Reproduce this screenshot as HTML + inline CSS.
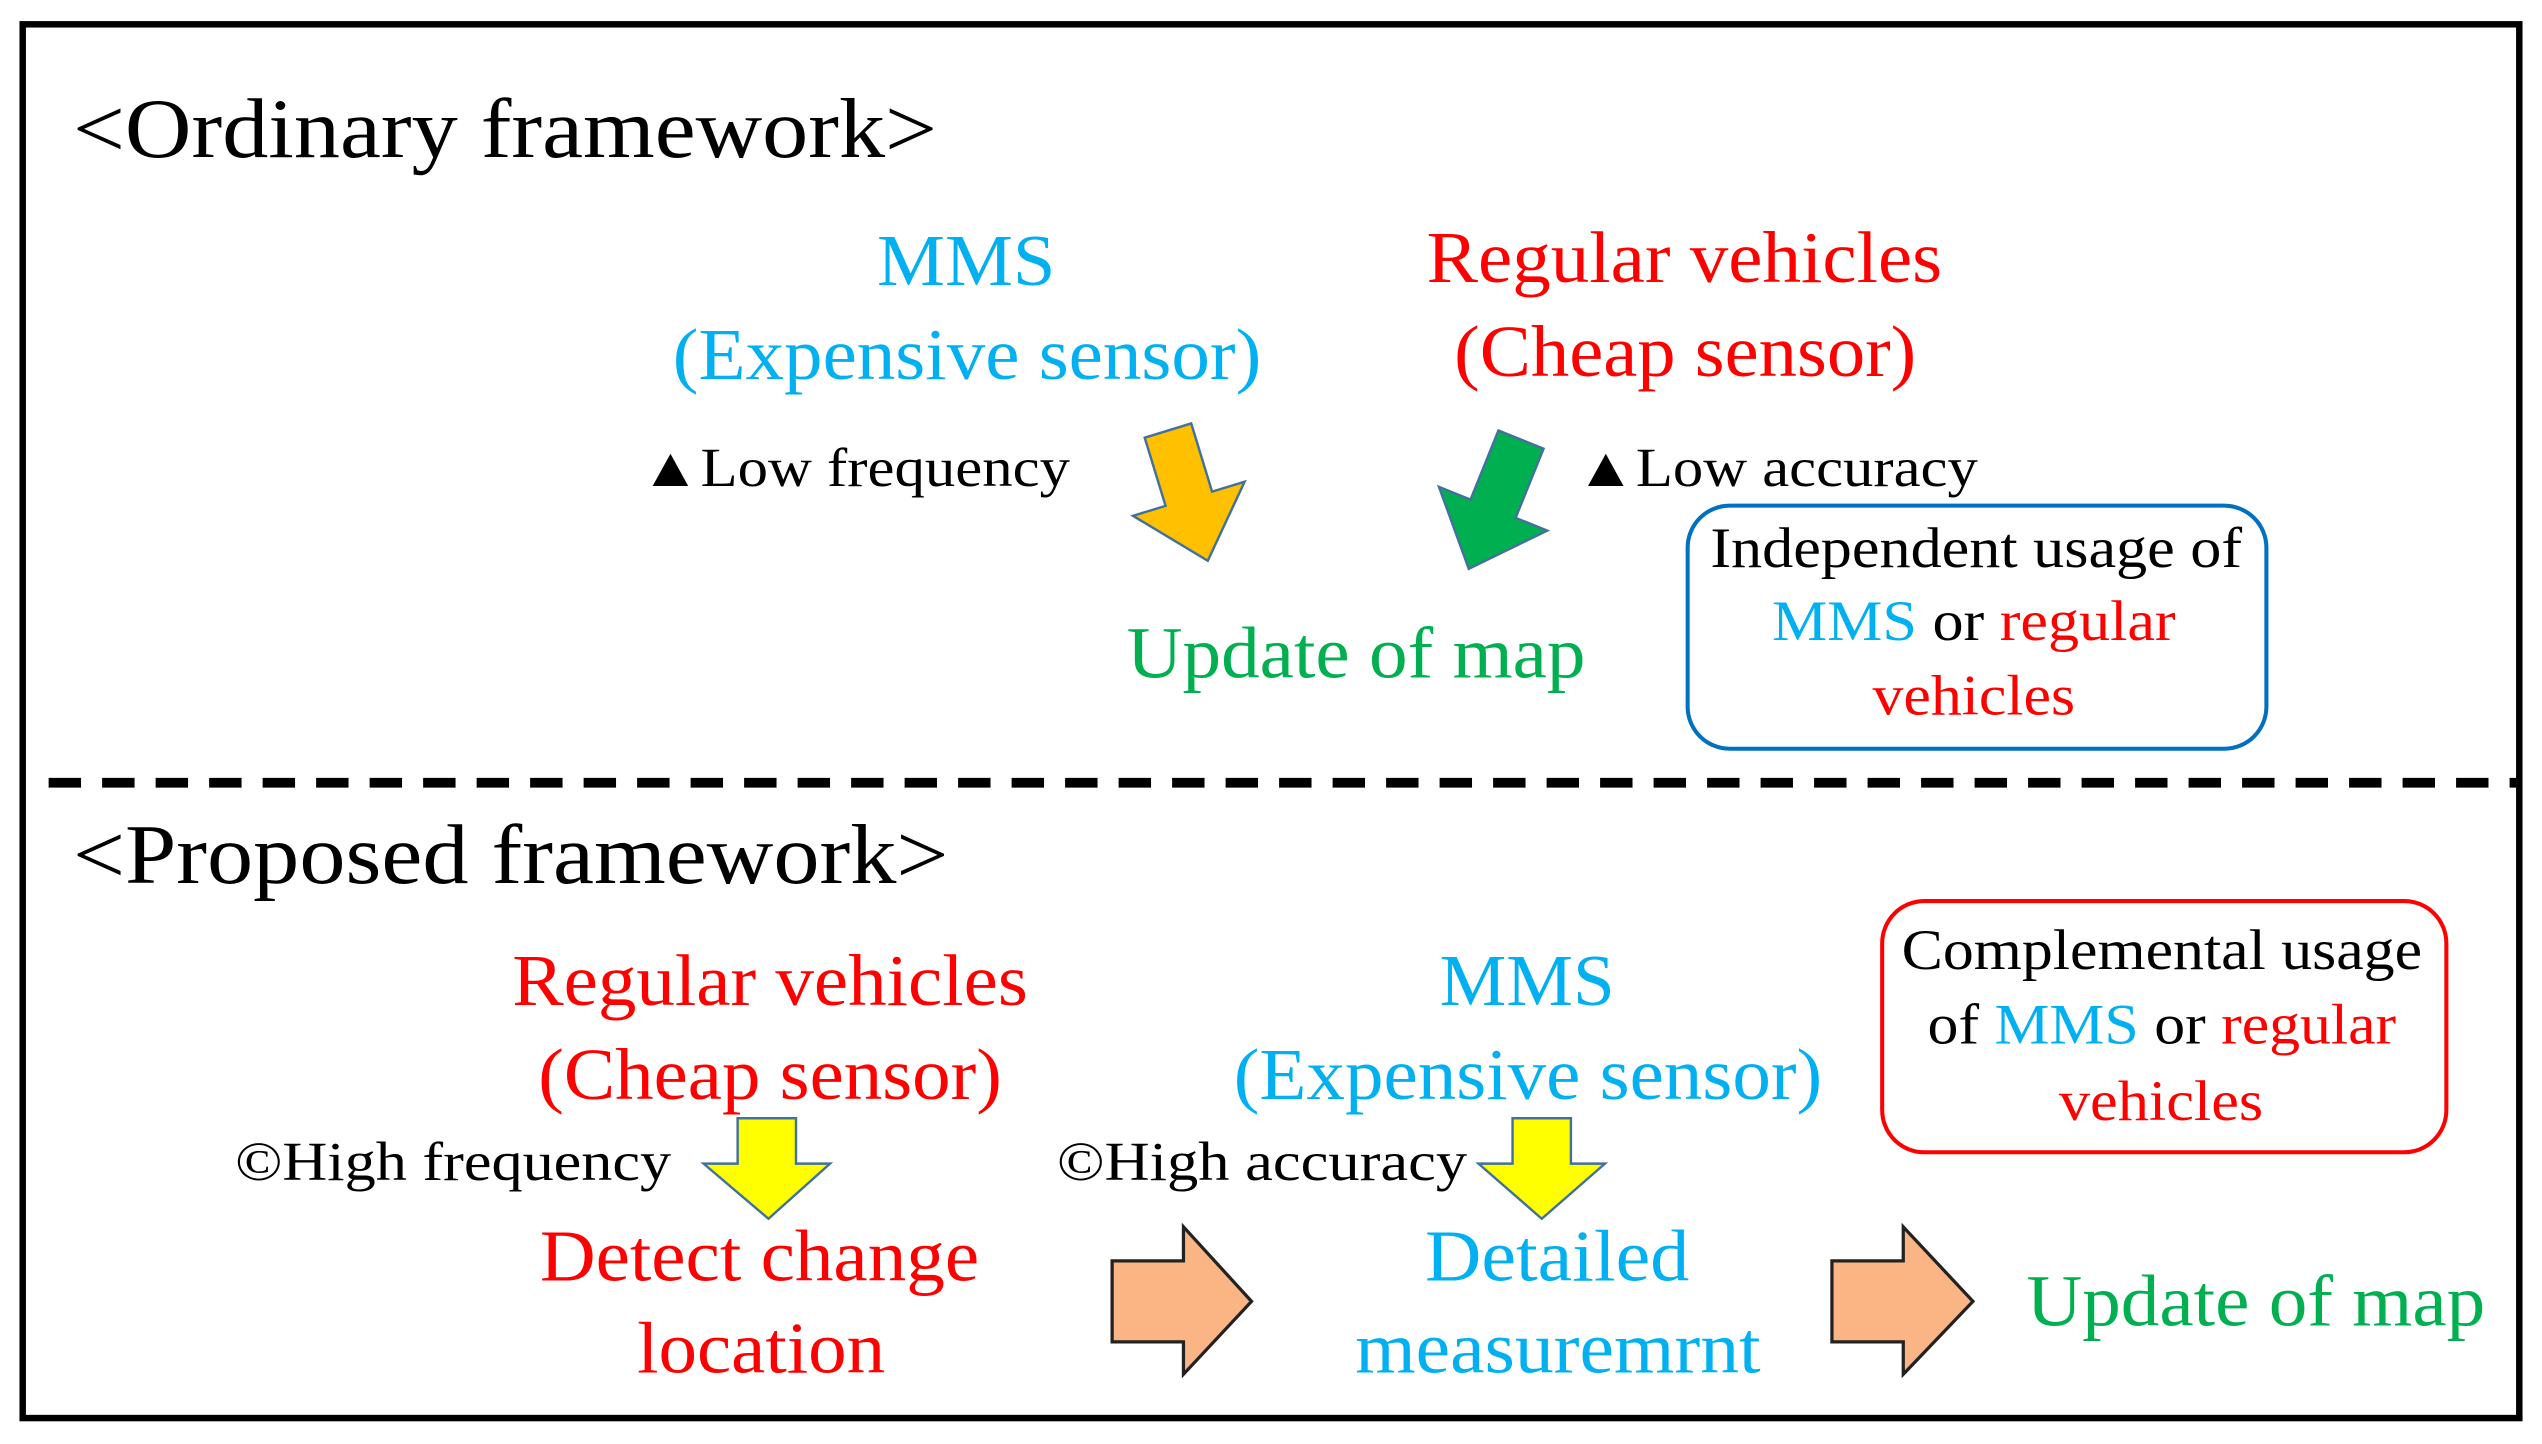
<!DOCTYPE html>
<html><head><style>html,body{margin:0;padding:0;background:#fff}svg{display:block}text{font-family:"Liberation Serif",serif}</style></head><body>
<svg width="2542" height="1444" viewBox="0 0 1568 891" preserveAspectRatio="none" xmlns="http://www.w3.org/2000/svg">
<rect x="0" y="0" width="1568" height="891" fill="#fff"/>
<rect x="14" y="15" width="1540" height="860" fill="none" stroke="#000" stroke-width="4"/>
<line x1="30" y1="483" x2="1552" y2="483" stroke="#000" stroke-width="6" stroke-dasharray="20,13"/>
<g>
<text x="45" y="97" font-size="52" textLength="533" lengthAdjust="spacingAndGlyphs">&lt;Ordinary framework&gt;</text>
<text x="541" y="176" font-size="45" fill="#00b0f0" textLength="110" lengthAdjust="spacingAndGlyphs">MMS</text>
<text x="415" y="234" font-size="45" fill="#00b0f0" textLength="363" lengthAdjust="spacingAndGlyphs">(Expensive sensor)</text>
<text x="880" y="174" font-size="45" fill="#ff0000" textLength="318" lengthAdjust="spacingAndGlyphs">Regular vehicles</text>
<text x="897" y="232" font-size="45" fill="#ff0000" textLength="285" lengthAdjust="spacingAndGlyphs">(Cheap sensor)</text>
<text x="695" y="418" font-size="45" fill="#00b050" textLength="283" lengthAdjust="spacingAndGlyphs">Update of map</text>
<text x="395" y="300" font-size="34" textLength="265" lengthAdjust="spacingAndGlyphs">▲Low frequency</text>
<text x="972" y="300" font-size="34" textLength="248" lengthAdjust="spacingAndGlyphs">▲Low accuracy</text>
<text x="1055" y="350" font-size="35" textLength="328" lengthAdjust="spacingAndGlyphs">Independent usage of</text>
<text x="1093" y="395" font-size="35" textLength="249" lengthAdjust="spacingAndGlyphs"><tspan fill="#00b0f0">MMS</tspan> or <tspan fill="#ff0000">regular</tspan></text>
<text x="1155" y="441" font-size="35" fill="#ff0000" textLength="125" lengthAdjust="spacingAndGlyphs">vehicles</text>
<text x="45" y="545" font-size="52" textLength="540" lengthAdjust="spacingAndGlyphs">&lt;Proposed framework&gt;</text>
<text x="316" y="620" font-size="45" fill="#ff0000" textLength="318" lengthAdjust="spacingAndGlyphs">Regular vehicles</text>
<text x="332" y="678" font-size="45" fill="#ff0000" textLength="286" lengthAdjust="spacingAndGlyphs">(Cheap sensor)</text>
<text x="888" y="620" font-size="45" fill="#00b0f0" textLength="108" lengthAdjust="spacingAndGlyphs">MMS</text>
<text x="761" y="678" font-size="45" fill="#00b0f0" textLength="363" lengthAdjust="spacingAndGlyphs">(Expensive sensor)</text>
<text x="333" y="790" font-size="45" fill="#ff0000" textLength="271" lengthAdjust="spacingAndGlyphs">Detect change</text>
<text x="393" y="847" font-size="45" fill="#ff0000" textLength="153" lengthAdjust="spacingAndGlyphs">location</text>
<text x="879" y="790" font-size="45" fill="#00b0f0" textLength="163" lengthAdjust="spacingAndGlyphs">Detailed</text>
<text x="836" y="847" font-size="45" fill="#00b0f0" textLength="250" lengthAdjust="spacingAndGlyphs">measuremrnt</text>
<text x="1250" y="818" font-size="45" fill="#00b050" textLength="283" lengthAdjust="spacingAndGlyphs">Update of map</text>
<text x="1173" y="598" font-size="35" textLength="321" lengthAdjust="spacingAndGlyphs">Complemental usage</text>
<text x="1189" y="644" font-size="35" textLength="289" lengthAdjust="spacingAndGlyphs">of <tspan fill="#00b0f0">MMS</tspan> or <tspan fill="#ff0000">regular</tspan></text>
<text x="1270" y="691" font-size="35" fill="#ff0000" textLength="126" lengthAdjust="spacingAndGlyphs">vehicles</text>
<text x="145" y="728" font-size="34" textLength="269" lengthAdjust="spacingAndGlyphs">©High frequency</text>
<text x="652" y="728" font-size="34" textLength="253" lengthAdjust="spacingAndGlyphs">©High accuracy</text>
</g>
<polygon transform="translate(745,346) rotate(-17)" points="-15,-84 15,-84 15,-40 36,-40 0,0 -36,-40 -15,-40" fill="#ffc000" stroke="#41719c" stroke-width="1.5"/>
<polygon transform="translate(906,351) rotate(22)" points="-15,-86 15,-86 15,-40 36,-40 0,0 -36,-40 -15,-40" fill="#00b050" stroke="#41719c" stroke-width="1.5"/>
<rect x="1041" y="312" width="357" height="150" rx="26" fill="none" stroke="#0070c0" stroke-width="2.5"/>
<rect x="1161" y="556" width="348" height="155" rx="26" fill="none" stroke="#ff0000" stroke-width="2.5"/>
<polygon points="455,690 491,690 491,718 512,718 474,752 434,718 455,718" fill="#ffff00" stroke="#41719c" stroke-width="1.5"/>
<polygon points="933,690 969,690 969,718 990,718 951,752 912,718 933,718" fill="#ffff00" stroke="#41719c" stroke-width="1.5"/>
<polygon points="686,778 730,778 730,757 772,803 730,848 730,828 686,828" fill="#fbb584" stroke="#222" stroke-width="2"/>
<polygon points="1130,778 1174,778 1174,757 1217,803 1174,848 1174,828 1130,828" fill="#fbb584" stroke="#222" stroke-width="2"/>
</svg>
</body></html>
